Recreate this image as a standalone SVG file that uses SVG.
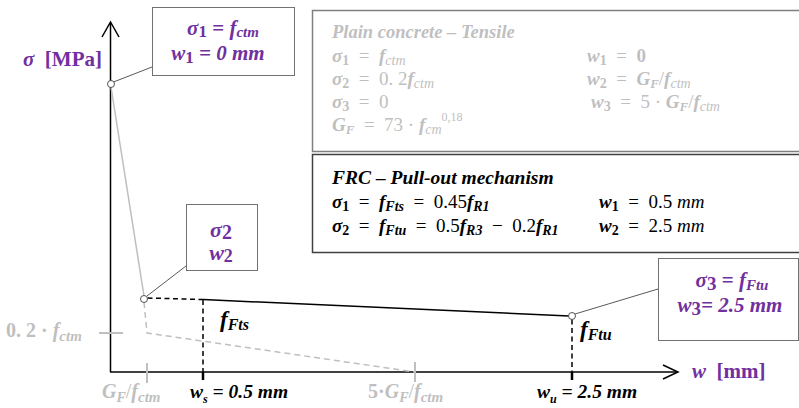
<svg xmlns="http://www.w3.org/2000/svg" width="799" height="408" viewBox="0 0 799 408">
<style>
text{font-family:"Liberation Serif","DejaVu Serif",serif;}
.bi{font-style:italic;font-weight:bold}
.b{font-weight:bold}
.i{font-style:italic}
.gray{fill:#BFBFBF}
.pur{fill:#7030A0}
.blk{fill:#000}
.box{fill:#fff;stroke:#767171;stroke-width:1}
.lead{stroke:#595959;stroke-width:1;fill:none}
.axis{stroke:#000;stroke-width:1.5;fill:none}
.gl{stroke:#BFBFBF;stroke-width:1.5;fill:none}
.gd{stroke:#BFBFBF;stroke-width:1.5;fill:none;stroke-dasharray:6 4}
.gt{stroke:#BFBFBF;stroke-width:2;fill:none}
.bl{stroke:#000;stroke-width:1.5;fill:none}
.bd{stroke:#000;stroke-width:1.5;fill:none;stroke-dasharray:5 3.5}
.bt{stroke:#000;stroke-width:2.5;fill:none}
.pt{fill:#fff;stroke:#404040;stroke-width:0.9}
</style>

<g id="connectors">
  <path class="axis" d="M110.5,372 V23"/>
  <path class="axis" d="M102,37 L110.5,22 L119,37"/>
  <path class="axis" d="M110,372 H677"/>
  <path class="axis" d="M663,365 L678,372 L663,379"/>
  <path class="gl" d="M111,87 L144,296"/>
  <path class="gd" d="M144,302 L147,333 L415,372"/>
  <path class="gt" d="M99,333 H123"/>
  <path class="gt" d="M147,363 V383"/>
  <path class="gt" d="M415,362 V382"/>
  <path class="bd" d="M147.5,298 L203,299.5"/>
  <path class="bl" d="M203,299.5 L569,316"/>
  <path class="bd" d="M203,300 V372"/>
  <path class="bd" d="M572,319.5 V372"/>
  <path class="bt" d="M203,372 V380"/>
  <path class="bt" d="M572,372 V380"/>
  <path class="lead" d="M113.5,82 L152,67"/>
  <path class="lead" d="M147,296 L186,266"/>
  <path class="lead" d="M575,314 L658,289"/>
  <circle class="pt" cx="111" cy="84" r="3.5"/>
  <circle class="pt" cx="144" cy="299" r="3.5"/>
  <circle class="pt" cx="572" cy="316" r="3.5"/>
</g>

<g id="axis-labels">
  <text x="23" y="66" font-size="21" class="pur b"><tspan class="bi">σ</tspan>&#8194;[MPa]</text>
  <text x="692" y="378" font-size="21" class="pur b"><tspan class="bi">w</tspan>&#8194;[mm]</text>
  <text x="6" y="337" font-size="20" class="gray b">0. 2 · <tspan class="bi">f</tspan><tspan class="bi" dy="4" font-size="15">ctm</tspan></text>
  <text x="102" y="398" font-size="20" class="gray"><tspan class="bi">G</tspan><tspan class="bi" dy="4" font-size="14">F</tspan><tspan dy="-4">/</tspan><tspan class="bi">f</tspan><tspan class="bi" dy="4" font-size="15">ctm</tspan></text>
  <text x="368" y="398" font-size="20" class="gray"><tspan class="b">5·</tspan><tspan class="bi">G</tspan><tspan class="bi" dy="4" font-size="14">F</tspan><tspan dy="-4">/</tspan><tspan class="bi">f</tspan><tspan class="bi" dy="4" font-size="15">ctm</tspan></text>
  <text x="190" y="398" font-size="19.5" class="blk bi">w<tspan dy="5" font-size="12">s</tspan><tspan dy="-5"> = 0.5 mm</tspan></text>
  <text x="537" y="398" font-size="19.5" class="blk bi">w<tspan dy="5" font-size="12">u</tspan><tspan dy="-5"> = 2.5 mm</tspan></text>
  <text x="220" y="327" font-size="23" class="blk bi">f<tspan dy="3" font-size="16">Fts</tspan></text>
  <text x="580" y="337" font-size="23" class="blk bi">f<tspan dy="3" font-size="16">Ftu</tspan></text>
</g>

<g id="node-point1">
  <rect class="box" x="152.5" y="7.5" width="142" height="68"/>
  <text x="223" y="35" font-size="21" text-anchor="middle" class="pur b"><tspan class="bi">σ</tspan><tspan dy="2" font-size="17">1</tspan><tspan dy="-2"> = </tspan><tspan class="bi">f</tspan><tspan class="bi" dy="2" font-size="15">ctm</tspan></text>
  <text x="218" y="60" font-size="21" text-anchor="middle" class="pur bi">w<tspan dy="3" font-size="17" font-style="normal">1</tspan><tspan dy="-3"> = 0 mm</tspan></text>
</g>

<g id="node-point2">
  <rect class="box" x="186.5" y="204.5" width="71" height="66"/>
  <text x="221" y="237" font-size="22" text-anchor="middle" class="pur b"><tspan class="bi">σ</tspan><tspan dy="2" font-size="20">2</tspan></text>
  <text x="221" y="260" font-size="22" text-anchor="middle" class="pur b"><tspan class="bi">w</tspan><tspan dy="2" font-size="18">2</tspan></text>
</g>

<g id="node-point3">
  <rect class="box" x="658.5" y="258.5" width="140" height="82"/>
  <text x="732" y="287" font-size="21" text-anchor="middle" class="pur b"><tspan class="bi">σ</tspan><tspan dy="3" font-size="19">3</tspan><tspan dy="-3"> = </tspan><tspan class="bi">f</tspan><tspan class="bi" dy="3" font-size="15">Ftu</tspan></text>
  <text x="730" y="312" font-size="21" text-anchor="middle" class="pur bi">w<tspan dy="3" font-size="19" font-style="normal">3</tspan><tspan dy="-3">= 2.5 mm</tspan></text>
</g>

<g id="node-plain-concrete">
  <rect x="312.5" y="10.5" width="500" height="141" fill="#fff" stroke="#7F7F7F" stroke-width="1.5"/>
  <g class="gray" font-size="19">
    <text x="332" y="38" class="bi" font-size="18.5">Plain concrete – Tensile</text>
    <text x="332" y="62"><tspan class="bi">σ</tspan><tspan class="b" dy="3" font-size="14">1</tspan><tspan dy="-3">&#8194;=&#8194;</tspan><tspan class="bi">f</tspan><tspan class="i" dy="3" font-size="14">ctm</tspan></text>
    <text x="332" y="85"><tspan class="bi">σ</tspan><tspan class="b" dy="3" font-size="14">2</tspan><tspan dy="-3">&#8194;=&#8194;0. 2</tspan><tspan class="bi">f</tspan><tspan class="i" dy="3" font-size="14">ctm</tspan></text>
    <text x="332" y="108"><tspan class="bi">σ</tspan><tspan class="b" dy="3" font-size="14">3</tspan><tspan dy="-3">&#8194;=&#8194;0</tspan></text>
    <text x="332" y="131"><tspan class="bi">G</tspan><tspan class="bi" dy="3" font-size="13">F</tspan><tspan dy="-3">&#8194;=&#8194;73 · </tspan><tspan class="bi">f</tspan><tspan class="i" dy="3" font-size="14">cm</tspan><tspan dy="-13" font-size="12">0,18</tspan></text>
    <text x="587" y="62"><tspan class="bi">w</tspan><tspan class="b" dy="3" font-size="14">1</tspan><tspan dy="-3">&#8194;=&#8194;</tspan><tspan class="b">0</tspan></text>
    <text x="587" y="85"><tspan class="bi">w</tspan><tspan class="b" dy="3" font-size="14">2</tspan><tspan dy="-3">&#8194;=&#8194;</tspan><tspan class="bi">G</tspan><tspan class="bi" dy="3" font-size="13">F</tspan><tspan dy="-3">/</tspan><tspan class="bi">f</tspan><tspan class="i" dy="3" font-size="14">ctm</tspan></text>
    <text x="591" y="108"><tspan class="bi">w</tspan><tspan class="b" dy="3" font-size="14">3</tspan><tspan dy="-3">&#8194;=&#8194;5 · </tspan><tspan class="bi">G</tspan><tspan class="bi" dy="3" font-size="13">F</tspan><tspan dy="-3">/</tspan><tspan class="bi">f</tspan><tspan class="i" dy="3" font-size="14">ctm</tspan></text>
  </g>
</g>

<g id="node-frc">
  <rect x="312.5" y="154.5" width="500" height="98" fill="#fff" stroke="#404040" stroke-width="1.5"/>
  <g class="blk" font-size="19">
    <text x="332" y="184" class="bi" font-size="19.5">FRC – Pull-out mechanism</text>
    <text x="332" y="208"><tspan class="bi">σ</tspan><tspan class="b" dy="3" font-size="14">1</tspan><tspan dy="-3">&#8194;=&#8194;</tspan><tspan class="bi">f</tspan><tspan class="bi" dy="3" font-size="14">Fts</tspan><tspan dy="-3">&#8194;=&#8194;0.45</tspan><tspan class="bi">f</tspan><tspan class="bi" dy="3" font-size="14">R1</tspan></text>
    <text x="332" y="232"><tspan class="bi">σ</tspan><tspan class="b" dy="3" font-size="14">2</tspan><tspan dy="-3">&#8194;=&#8194;</tspan><tspan class="bi">f</tspan><tspan class="bi" dy="3" font-size="14">Ftu</tspan><tspan dy="-3">&#8194;=&#8194;0.5</tspan><tspan class="bi">f</tspan><tspan class="bi" dy="3" font-size="14">R3</tspan><tspan dy="-3">&#8194;−&#8194;0.2</tspan><tspan class="bi">f</tspan><tspan class="bi" dy="3" font-size="14">R1</tspan></text>
    <text x="599" y="208"><tspan class="bi">w</tspan><tspan class="b" dy="3" font-size="14">1</tspan><tspan dy="-3">&#8194;=&#8194;0.5 </tspan><tspan class="i">mm</tspan></text>
    <text x="599" y="232"><tspan class="bi">w</tspan><tspan class="b" dy="3" font-size="14">2</tspan><tspan dy="-3">&#8194;=&#8194;2.5 </tspan><tspan class="i">mm</tspan></text>
  </g>
</g>
</svg>
